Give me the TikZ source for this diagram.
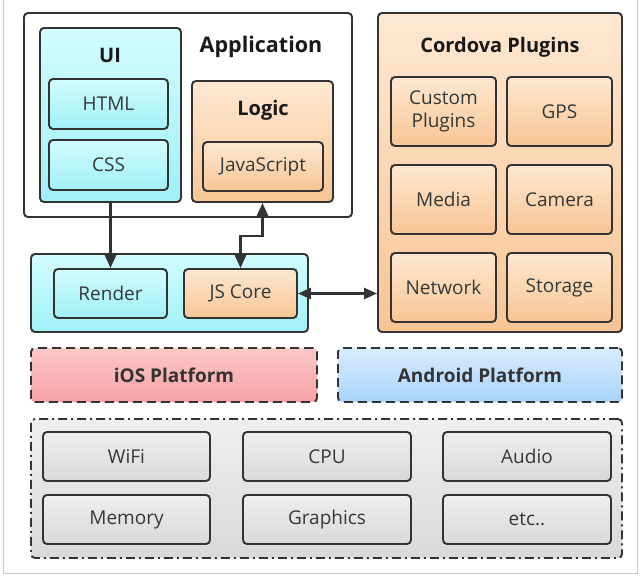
\documentclass[tikz,border=0pt]{standalone}
\usepackage{fontspec}
\setmainfont{Open Sans}
\usetikzlibrary{arrows.meta}
\definecolor{edge}{HTML}{333333}
\definecolor{txt}{HTML}{333838}
\definecolor{cyanT}{HTML}{D2FCFF}
\definecolor{cyanB}{HTML}{A0F0F6}
\definecolor{orT}{HTML}{FEE8D2}
\definecolor{orB}{HTML}{F8C594}
\definecolor{grT}{HTML}{EFEFEF}
\definecolor{grB}{HTML}{D9D9D9}
\definecolor{pkT}{HTML}{FBC8C8}
\definecolor{pkB}{HTML}{F5A2A6}
\definecolor{blT}{HTML}{D8ECFF}
\definecolor{blB}{HTML}{A9D3FA}
\definecolor{frame}{HTML}{C8C8C8}
\tikzset{
  box/.style={draw=edge, line width=1.9pt, rounded corners=4pt, inner sep=0pt, text=txt, font=\fontsize{19}{23}\selectfont, align=center},
  cy/.style={box, top color=cyanT, bottom color=cyanB},
  orng/.style={box, top color=orT, bottom color=orB},
  gry/.style={box, top color=grT, bottom color=grB},
  plain/.style={box, fill=white},
  hdr/.style={font=\fontsize{21.5}{25}\selectfont\bfseries, text=black!90, inner sep=0pt},
  subhdr/.style={font=\fontsize{20}{24}\selectfont\bfseries, text=black!90, inner sep=0pt},
  plat/.style={box, dash pattern=on 9pt off 5pt, font=\fontsize{19}{23}\selectfont\bfseries, text=edge},
  arr/.style={line width=2.4pt, draw=edge, -{Triangle[length=13pt,width=11pt]}},
  arrb/.style={line width=2.4pt, draw=edge, {Triangle[length=13pt,width=11pt]}-{Triangle[length=13pt,width=11pt]}},
}
\begin{document}
\begin{tikzpicture}[x=1pt,y=-1pt]
\useasboundingbox (0,0) rectangle (644,580);
\fill[white] (0,0) rectangle (644,580);
\draw[frame, line width=1pt] (3,0) -- (3,573) -- (637,573) -- (637,0);

% Application
\node[plain, minimum width=328pt, minimum height=204pt] (app) at (188,115) {};
\node[hdr] (apptitle) at (261,47) {Application};
\node[cy, minimum width=141pt, minimum height=174pt] (ui) at (110.5,115) {};
\node[subhdr] (uititle) at (110,55) {UI};
\node[cy, minimum width=119pt, minimum height=50pt] (html) at (108.5,104) {HTML};
\node[cy, minimum width=119pt, minimum height=50pt] (css) at (108.5,165) {CSS};
\node[orng, minimum width=141pt, minimum height=121pt] (logic) at (262.5,141.5) {};
\node[subhdr] (logictitle) at (263,110) {Logic};
\node[orng, minimum width=120pt, minimum height=49pt] (js) at (263,166.5) {JavaScript};

% Cordova plugins
\node[orng, minimum width=244pt, minimum height=319pt] (cordova) at (500,172.5) {};
\node[subhdr] (cordovatitle) at (500,47) {Cordova Plugins};
\node[orng, minimum width=105pt, minimum height=69pt] (custom) at (443.5,111.5) {Custom\\Plugins};
\node[orng, minimum width=105pt, minimum height=69pt] (gps) at (559.5,111.5) {GPS};
\node[orng, minimum width=105pt, minimum height=69pt] (media) at (443.5,199.5) {Media};
\node[orng, minimum width=105pt, minimum height=69pt] (camera) at (559.5,199.5) {Camera};
\node[orng, minimum width=105pt, minimum height=69pt] (network) at (443.5,287.5) {Network};
\node[orng, minimum width=105pt, minimum height=69pt] (storage) at (559.5,287.5) {Storage};

% Runtime
\node[cy, minimum width=277pt, minimum height=78pt] (runtime) at (169.5,293) {};
\node[cy, minimum width=113pt, minimum height=49pt] (render) at (110.5,293.5) {Render};
\node[orng, minimum width=113pt, minimum height=49pt] (jscore) at (240.5,293.5) {JS Core};

% Platforms
\node[plat, top color=pkT, bottom color=pkB, minimum width=286pt, minimum height=54pt] (ios) at (174,375) {iOS Platform};
\node[plat, top color=blT, bottom color=blB, minimum width=284pt, minimum height=54pt] (android) at (480,375) {Android Platform};

% Hardware
\node[gry, dash pattern=on 9pt off 4pt on 2pt off 4pt, minimum width=591pt, minimum height=139pt] (hw) at (326.5,488.5) {};
\node[gry, minimum width=167pt, minimum height=49pt] (wifi) at (126.5,456.5) {WiFi};
\node[gry, minimum width=168pt, minimum height=49pt] (cpu) at (327,456.5) {CPU};
\node[gry, minimum width=168pt, minimum height=49pt] (audio) at (527,456.5) {Audio};
\node[gry, minimum width=167pt, minimum height=49pt] (memory) at (126.5,519.5) {Memory};
\node[gry, minimum width=168pt, minimum height=49pt] (graphics) at (327,519.5) {Graphics};
\node[gry, minimum width=168pt, minimum height=49pt] (etc) at (527,519.5) {etc..};

% Connectors
\draw[arr] (ui.south) -- (render.north);
\draw[arrb] (jscore.north) -- ++(0,-32) -| (logic.south);
\draw[arrb] (jscore.east) -- (jscore.east -| cordova.west);
\end{tikzpicture}
\end{document}
